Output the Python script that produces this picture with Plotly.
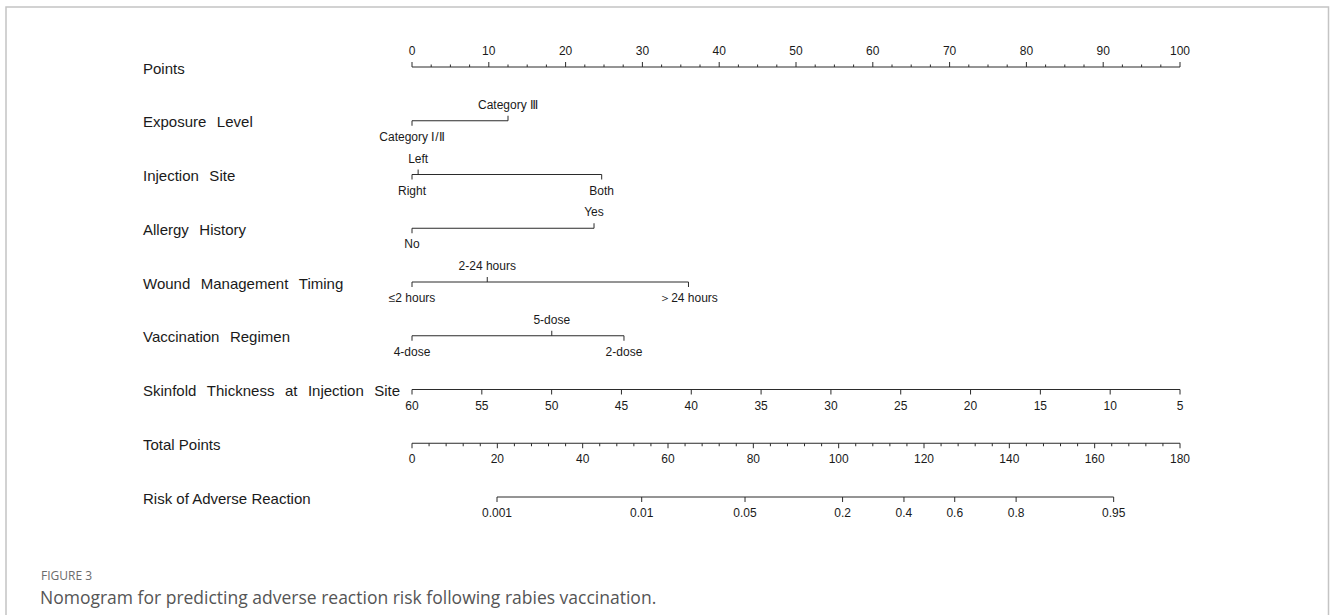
import math
import plotly.graph_objects as go

# ---------------- nomogram content ----------------
points_major = list(range(0, 101, 10))
points_minor = [i * 2.5 for i in range(41)]

exposure_levels = ["Category Ⅰ/Ⅱ", "Category Ⅲ"]
exposure_points = [0, 12.5]

injection_levels = ["Right", "Left", "Both"]
injection_points = [0, 0.8, 24.7]

allergy_levels = ["No", "Yes"]
allergy_points = [0, 23.7]

wound_levels = ["≤2 hours", "2-24 hours", "＞24 hours"]
wound_points = [0, 9.8, 36.0]

regimen_levels = ["4-dose", "5-dose", "2-dose"]
regimen_points = [0, 18.2, 27.6]

skinfold_values = [60, 55, 50, 45, 40, 35, 30, 25, 20, 15, 10, 5]
skinfold_zero_at = 60      # skinfold value scoring 0 points
skinfold_full_at = 5       # skinfold value scoring 100 points

total_major = list(range(0, 181, 20))
total_minor = list(range(0, 181, 4))
total_max = 180

risk_values = [0.001, 0.01, 0.05, 0.2, 0.4, 0.6, 0.8, 0.95]
risk_labels = ["0.001", "0.01", "0.05", "0.2", "0.4", "0.6", "0.8", "0.95"]
lp_intercept = -8.2646     # linear predictor = intercept + slope * total points
lp_slope = 0.06816

WS = "\u2002\u2009"        # wide word gap used in the predictor names
row_titles = [
    "Points",
    f"Exposure{WS}Level",
    f"Injection{WS}Site",
    f"Allergy{WS}History",
    f"Wound{WS}Management{WS}Timing",
    f"Vaccination{WS}Regimen",
    f"Skinfold{WS}Thickness{WS}at{WS}Injection{WS}Site",
    "Total Points",
    "Risk of Adverse Reaction",
]

# label side for each categorical level (+1 above the line, -1 below)
exposure_side = [-1, 1]
injection_side = [-1, 1, -1]
allergy_side = [-1, 1]
wound_side = [-1, 1, -1]
regimen_side = [-1, 1, -1]

# ---------------- layout geometry (pixels) ----------------
W, H = 1330, 615
X_ZERO_PX = 412.0          # where 0 points sits
PX_PER_POINT = 7.68
ROW_TOP = 67.0
ROW_STEP = 53.75
TITLE_X = 141.0
LINE_COLOR = "#2b2b2b"
TEXT_COLOR = "#1a1a1a"
AXIS_FONT = '"Liberation Sans", Arial, sans-serif'

row_y = [ROW_TOP + i * ROW_STEP for i in range(len(row_titles))]
ABOVE_OFF = -15.0
BELOW_OFF = 17.0

fig = go.Figure()


def add_segments(segs):
    xs, ys = [], []
    for (x0, y0, x1, y1) in segs:
        xs += [x0, x1, None]
        ys += [y0, y1, None]
    fig.add_trace(go.Scatter(x=xs, y=ys, mode="lines",
                             line=dict(color=LINE_COLOR, width=1),
                             hoverinfo="skip", showlegend=False))


def add_labels(xs, ys, texts, size=12):
    fig.add_trace(go.Scatter(x=xs, y=ys, text=texts, mode="text",
                             textposition="middle center",
                             textfont=dict(family=AXIS_FONT, size=size, color=TEXT_COLOR),
                             hoverinfo="skip", showlegend=False))


# Points axis: labels and ticks above the line
y = row_y[0]
segs = [(0, y, 100, y)]
for p in points_minor:
    ln = 5 if p in points_major else 2.5
    segs.append((p, y, p, y - ln))
add_segments(segs)
add_labels(points_major, [y + ABOVE_OFF] * len(points_major), [str(v) for v in points_major])


# Categorical predictors
def categorical_row(idx, levels, pts, sides):
    y = row_y[idx]
    segs = [(min(pts), y, max(pts), y)]
    for p, s in zip(pts, sides):
        segs.append((p, y, p, y - 5 * s))
    add_segments(segs)
    add_labels(pts, [y + (ABOVE_OFF if s > 0 else BELOW_OFF) for s in sides], levels)


categorical_row(1, exposure_levels, exposure_points, exposure_side)
categorical_row(2, injection_levels, injection_points, injection_side)
categorical_row(3, allergy_levels, allergy_points, allergy_side)
categorical_row(4, wound_levels, wound_points, wound_side)
categorical_row(5, regimen_levels, regimen_points, regimen_side)

# Skinfold thickness (continuous, decreasing)
y = row_y[6]
sk_pts = [(skinfold_zero_at - v) / (skinfold_zero_at - skinfold_full_at) * 100 for v in skinfold_values]
segs = [(min(sk_pts), y, max(sk_pts), y)] + [(p, y, p, y + 5) for p in sk_pts]
add_segments(segs)
add_labels(sk_pts, [y + BELOW_OFF] * len(sk_pts), [str(v) for v in skinfold_values])

# Total points axis mapped onto the points scale
y = row_y[7]
to_pts = lambda tp: tp * 100.0 / total_max
segs = [(0, y, 100, y)]
for tp in total_minor:
    ln = 5 if tp in total_major else 3
    segs.append((to_pts(tp), y, to_pts(tp), y + ln))
add_segments(segs)
add_labels([to_pts(t) for t in total_major], [y + BELOW_OFF] * len(total_major),
           [str(v) for v in total_major])

# Risk axis: total points needed for each probability
y = row_y[8]
risk_tp = [(math.log(p / (1 - p)) - lp_intercept) / lp_slope for p in risk_values]
risk_x = [to_pts(t) for t in risk_tp]
segs = [(min(risk_x), y, max(risk_x), y)] + [(x, y, x, y + 5) for x in risk_x]
add_segments(segs)
add_labels(risk_x, [y + BELOW_OFF] * len(risk_x), risk_labels)

# Row titles
for t, yy in zip(row_titles, row_y):
    fig.add_annotation(x=TITLE_X / W, xref="paper", y=yy + 1, yref="y",
                       text=t, showarrow=False, xanchor="left", yanchor="middle",
                       font=dict(family=AXIS_FONT, size=15, color=TEXT_COLOR))

# Caption
CAP_FONT = '"Open Sans", sans-serif'
fig.add_annotation(x=39 / W, xref="paper", y=1 - 575 / H, yref="paper",
                   text="FIGURE 3", showarrow=False, xanchor="left", yanchor="middle",
                   font=dict(family=CAP_FONT, size=12, color="#6b6b6b"))
fig.add_annotation(x=38 / W, xref="paper", y=1 - 597 / H, yref="paper",
                   text="Nomogram for predicting adverse reaction risk following rabies vaccination.",
                   showarrow=False, xanchor="left", yanchor="middle",
                   font=dict(family=CAP_FONT, size=17.5, color="#555555"))

# Frame around the figure panel
fig.add_shape(type="rect", xref="paper", yref="paper",
              x0=6 / W, x1=1328.5 / W, y0=-0.05, y1=1 - 7 / H,
              line=dict(color="#c4c4c4", width=1.5), fillcolor="rgba(0,0,0,0)")

x_min = -X_ZERO_PX / PX_PER_POINT
x_max = (W - X_ZERO_PX) / PX_PER_POINT
fig.update_layout(
    width=W, height=H,
    margin=dict(l=0, r=0, t=0, b=0),
    paper_bgcolor="white", plot_bgcolor="white",
    xaxis=dict(range=[x_min, x_max], visible=False, fixedrange=True),
    yaxis=dict(range=[H, 0], visible=False, fixedrange=True),
    showlegend=False,
)

fig.write_html("out.html")
